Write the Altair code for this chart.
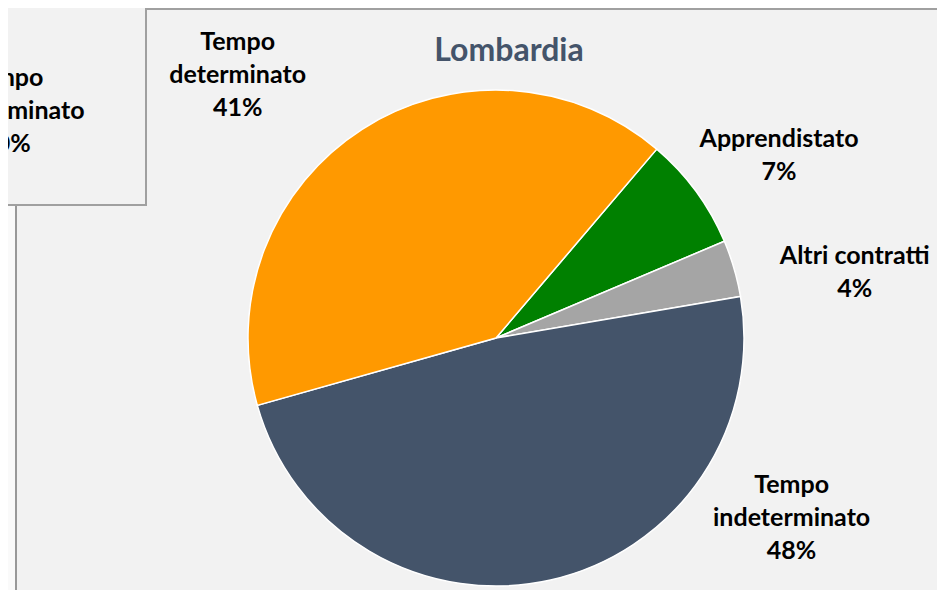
import math
import altair as alt
import pandas as pd

# ---------------- data ----------------
title_text = "Lombardia"
categories = ["Apprendistato", "Altri contratti", "Tempo indeterminato", "Tempo determinato"]
label_lines = ["Apprendistato", "Altri contratti", "Tempo\nindeterminato", "Tempo\ndeterminato"]
shares = [7.4, 3.7, 48.3, 40.6]
colors = ["#008000", "#A5A5A5", "#44546A", "#FF9900"]

# neighbouring (cut-off) panel text
side_label = "Tempo\nindeterminato\n50%"

# ---------------- layout ----------------
W, H = 929, 582
CX, CY, R = 488, 330, 248
START = math.radians(40.4)
# polar position of each label's first line, relative to pie centre
label_angle_deg = [54.9, 77.1, 116.4, 318.9]
label_radius = [346, 368, 330, 393]
FONT = "Lato"

df = pd.DataFrame({"cat": categories, "share": shares, "order": list(range(len(categories)))})

pie = alt.Chart(df).mark_arc(outerRadius=R, stroke="white", strokeWidth=1.5).encode(
    theta=alt.Theta("share:Q", stack=True,
                    scale=alt.Scale(domain=[0, sum(shares)], range=[START, START + 2 * math.pi])),
    color=alt.Color("cat:N", scale=alt.Scale(domain=categories, range=colors), legend=None),
    order=alt.Order("order:Q"),
    x=alt.value(CX),
    y=alt.value(CY),
)

lab = pd.DataFrame({
    "text": [f"{t}\n{round(s)}%" for t, s in zip(label_lines, shares)],
    "ang": [math.radians(a) for a in label_angle_deg],
    "rad": label_radius,
})

labels = alt.Chart(lab).mark_text(
    font=FONT, fontSize=25, fontWeight="bold", color="#000000",
    lineBreak="\n", lineHeight=33, align="center", baseline="middle",
).encode(
    theta=alt.Theta("ang:Q", scale=None, stack=False),
    radius=alt.Radius("rad:Q", scale=None),
    text="text:N",
    x=alt.value(CX),
    y=alt.value(CY),
)

one = pd.DataFrame({"k": [0]})

title = alt.Chart(one).mark_text(
    font=FONT, fontSize=32, fontWeight="bold", color="#44546A",
    align="center", baseline="middle",
).encode(x=alt.value(501), y=alt.value(43), text=alt.value(title_text))

# frame decorations
side_box = alt.Chart(one).mark_rect(fill="#F2F2F2", stroke="#A0A0A0", strokeWidth=2).encode(
    x=alt.value(-10), x2=alt.value(138), y=alt.value(-10), y2=alt.value(197))
top_line = alt.Chart(one).mark_rule(color="#A0A0A0", strokeWidth=2).encode(
    x=alt.value(138), x2=alt.value(W), y=alt.value(1))
left_strip = alt.Chart(one).mark_rect(fill="#FAFAFA").encode(
    x=alt.value(0), x2=alt.value(7), y=alt.value(198), y2=alt.value(H))
left_line = alt.Chart(one).mark_rule(color="#999999", strokeWidth=2).encode(
    x=alt.value(8), y=alt.value(198), y2=alt.value(H))
side_text = alt.Chart(one).mark_text(
    font=FONT, fontSize=25, fontWeight="bold", color="#000000",
    lineBreak="\n", lineHeight=33, align="center", baseline="middle",
).encode(x=alt.value(-2), y=alt.value(70), text=alt.value(side_label))

chart = alt.layer(
    left_strip, left_line, side_box, side_text, top_line, pie, labels, title
).properties(
    width=W, height=H,
    autosize=alt.AutoSizeParams(type="none"),
    padding=0,
    background="#F2F2F2",
).configure_view(stroke=None)

chart.save("out.html", embed_options={"renderer": "svg", "actions": False})
